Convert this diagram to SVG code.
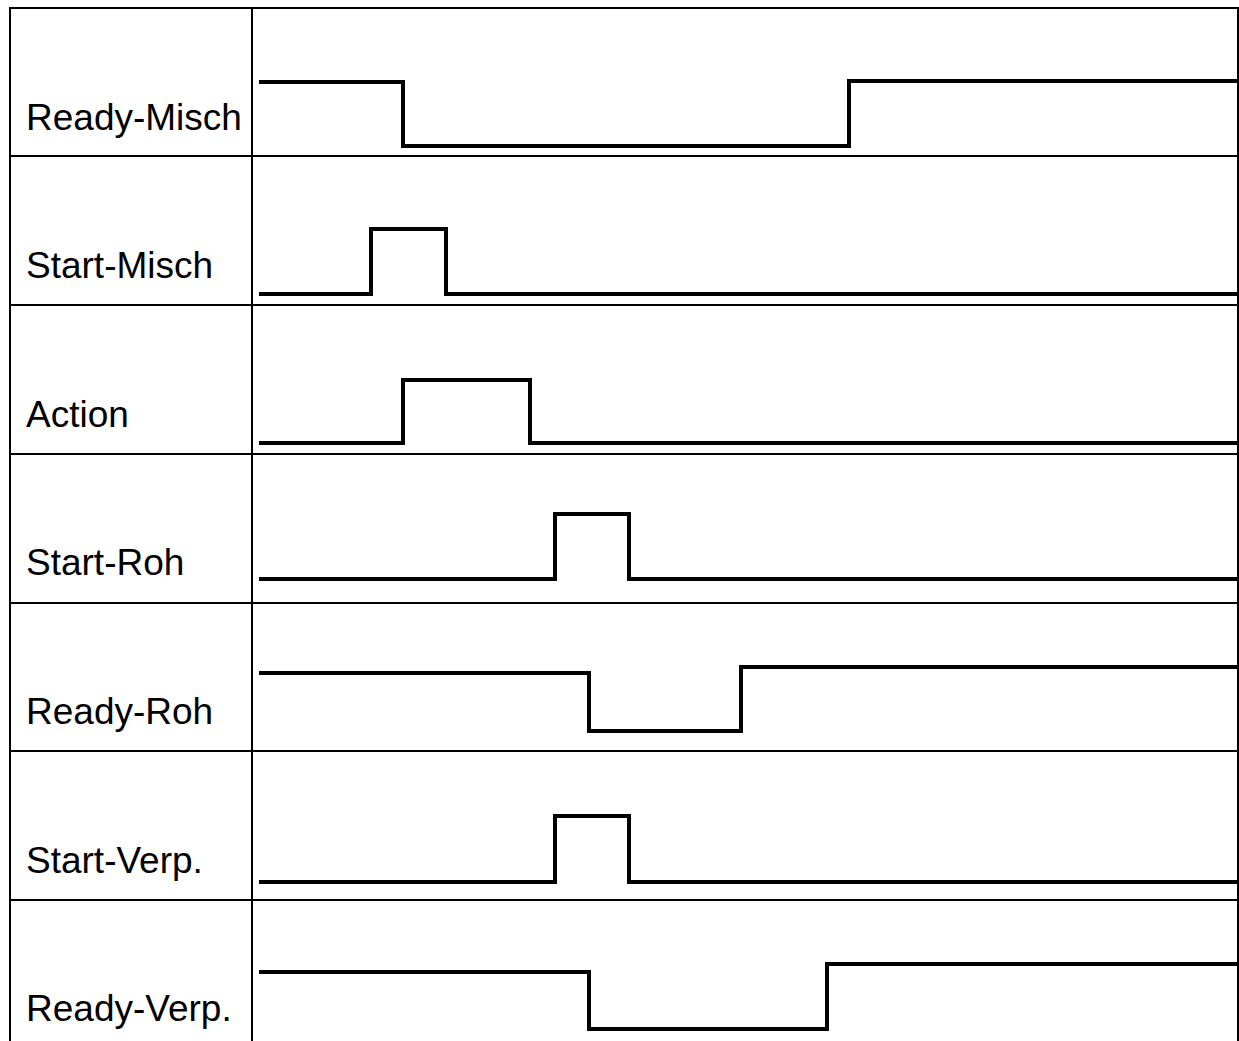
<svg xmlns="http://www.w3.org/2000/svg" width="1239" height="1041" viewBox="0 0 1239 1041">
<style>
.grid{stroke:#000;stroke-width:2;fill:none}
.sig{stroke:#000;stroke-width:4;fill:none;stroke-linejoin:miter}
.lbl{font-family:"Liberation Sans",Arial,sans-serif;font-size:37px;fill:#000}
</style>
<rect width="1239" height="1041" fill="#fff"/>
<g id="grid">
<path class="grid" d="M10,1041 V8 H1238 V1041 M252,8 V1041 M10,156 H1238 M10,305 H1238 M10,454 H1238 M10,603 H1238 M10,751 H1238 M10,900 H1238"/>
</g>
<g id="row-ready-misch"><text class="lbl" x="26" y="129.5">Ready-Misch</text></g>
<g id="row-start-misch"><text class="lbl" x="26" y="278">Start-Misch</text></g>
<g id="row-action"><text class="lbl" x="26" y="427">Action</text></g>
<g id="row-start-roh"><text class="lbl" x="26" y="575">Start-Roh</text></g>
<g id="row-ready-roh"><text class="lbl" x="26" y="724">Ready-Roh</text></g>
<g id="row-start-verp"><text class="lbl" x="26" y="873">Start-Verp.</text></g>
<g id="row-ready-verp"><text class="lbl" x="26" y="1021">Ready-Verp.</text></g>
<g id="signals">
<path class="sig" d="M259,82 H403 V146 H849 V81 H1238"/>
<path class="sig" d="M259,294 H371 V229 H446 V294 H1238"/>
<path class="sig" d="M259,443 H403 V380 H530 V443 H1238"/>
<path class="sig" d="M259,579 H555 V514 H629 V579 H1238"/>
<path class="sig" d="M259,673 H589 V731 H741 V667 H1238"/>
<path class="sig" d="M259,882 H555 V816 H629 V882 H1238"/>
<path class="sig" d="M259,972 H589 V1029 H827 V964 H1238"/>
</g>
</svg>
